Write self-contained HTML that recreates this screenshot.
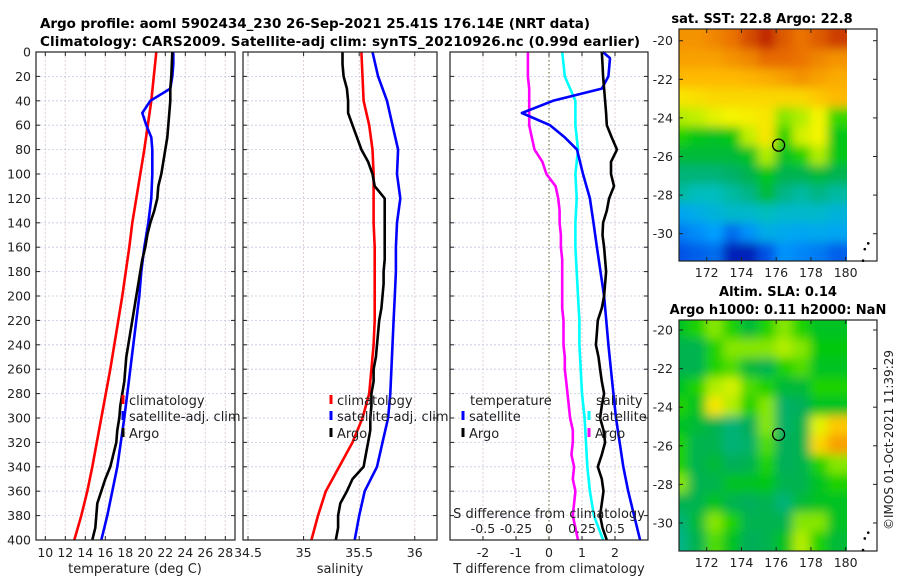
<!DOCTYPE html>
<html><head><meta charset="utf-8"><style>
html,body{margin:0;padding:0;background:#fff;}
svg{display:block;font-family:"DejaVu Sans","Liberation Sans",sans-serif;}
</style></head><body>
<svg id="fig" width="900" height="580" viewBox="0 0 900 580">
<defs>
<filter id="blur" filterUnits="userSpaceOnUse" x="600" y="0" width="300" height="580"><feGaussianBlur stdDeviation="5"/></filter>
<clipPath id="clip1"><rect x="679" y="29" width="168" height="232"/></clipPath>
<clipPath id="clip2"><rect x="679" y="320" width="168" height="231"/></clipPath>
</defs>
<text x="40" y="28" font-size="13.5" font-weight="bold" textLength="550">Argo profile: aoml 5902434_230 26-Sep-2021 25.41S 176.14E (NRT data)</text>
<text x="40" y="46" font-size="13.5" font-weight="bold" textLength="600">Climatology: CARS2009. Satellite-adj clim: synTS_20210926.nc (0.99d earlier)</text>
<text x="762" y="23" font-size="13" font-weight="bold" text-anchor="middle">sat. SST: 22.8 Argo: 22.8</text>
<text x="778" y="296" font-size="13" font-weight="bold" text-anchor="middle">Altim. SLA: 0.14</text>
<text x="778" y="314" font-size="13" font-weight="bold" text-anchor="middle">Argo h1000: 0.11 h2000: NaN</text>
<text transform="translate(893,440) rotate(-90)" font-size="12" text-anchor="middle" fill="#222">©IMOS 01-Oct-2021 11:39:29</text>
</svg>
<script>
// ---------- profile data ----------
const depth20 = [0,20,40,60,80,100,120,140,160,180,200,220,240,260,280,300,320,340,360,380,400];
const depth10 = [0,10,20,30,40,50,60,70,80,90,100,110,120,130,140,150,160,170,180,190,200,210,220,230,240,250,260,270,280,290,300,310,320,330,340,350,360,370,380,390,400];
const depthSatT = [0,10,20,30,40,50,60,70,80,100,120,140,160,180,200,240,280,300,340,360,380,400];
const depthSatD = [0,5,20,30,40,50,60,70,80,100,120,140,160,200,240,280,300,340,360,380,400];
const depthTicks = [0,20,40,60,80,100,120,140,160,180,200,220,240,260,280,300,320,340,360,380,400];
// temperature (deg C)
const tempClim = [21.1,20.85,20.6,20.25,19.9,19.5,19.1,18.7,18.4,18.05,17.7,17.3,16.9,16.5,16.05,15.6,15.15,14.7,14.2,13.6,12.9];
const tempSat = [22.8,22.8,22.7,22.5,20.5,19.7,20.1,20.6,20.7,20.7,20.6,20.3,19.9,19.6,19.4,18.8,18.2,17.9,17.2,16.7,16.2,15.6];
const tempArgo = [22.7,22.65,22.6,22.5,22.5,22.4,22.3,22.2,22.0,21.8,21.6,21.3,21.2,20.9,20.5,20.2,20.0,19.7,19.5,19.3,19.1,18.9,18.7,18.5,18.3,18.1,18.0,17.9,17.7,17.5,17.4,17.2,17.1,16.8,16.5,16.0,15.6,15.2,15.1,15.0,14.7];
const tempTicks = [10,12,14,16,18,20,22,24,26,28];
// salinity
const salClim = [35.52,35.53,35.54,35.59,35.62,35.63,35.63,35.63,35.64,35.64,35.64,35.64,35.63,35.61,35.59,35.53,35.44,35.32,35.2,35.13,35.07];
const salSat = [35.62,35.67,35.75,35.8,35.85,35.84,35.87,35.84,35.83,35.83,35.82,35.81,35.8,35.79,35.78,35.76,35.71,35.66,35.55,35.5,35.46];
const salArgo = [35.35,35.35,35.36,35.39,35.4,35.4,35.44,35.48,35.52,35.58,35.62,35.64,35.73,35.73,35.73,35.73,35.73,35.73,35.72,35.72,35.71,35.7,35.68,35.67,35.66,35.65,35.63,35.63,35.61,35.61,35.6,35.6,35.58,35.56,35.54,35.44,35.39,35.33,35.31,35.31,35.29];
const salTicks = [34.5,35,35.5,36];
const salTickLabels = ["34.5","35","35.5","36"];
// differences from climatology
const tDiffSat = [1.63,1.85,1.8,1.6,0.12,-0.82,0.03,0.48,0.85,1.03,1.24,1.35,1.45,1.67,1.8,1.95,2.03,2.25,2.4,2.58,2.76];
const tDiffArgo = [1.6,1.62,1.64,1.67,1.7,1.73,1.75,1.9,2.06,1.88,1.88,1.97,1.82,1.75,1.64,1.62,1.67,1.7,1.73,1.7,1.67,1.6,1.48,1.45,1.42,1.5,1.55,1.6,1.67,1.6,1.55,1.65,1.7,1.6,1.48,1.6,1.65,1.6,1.55,1.62,1.75];
const sDiffSat = [0.1,0.12,0.2,0.2,0.22,0.2,0.21,0.2,0.2,0.21,0.22,0.23,0.23,0.24,0.25,0.27,0.28,0.29,0.31,0.34,0.41];
const sDiffArgo = [-0.16,-0.16,-0.16,-0.15,-0.15,-0.15,-0.15,-0.13,-0.11,-0.05,-0.02,0.05,0.07,0.08,0.08,0.09,0.09,0.1,0.1,0.1,0.1,0.1,0.11,0.11,0.11,0.12,0.12,0.13,0.14,0.15,0.16,0.18,0.18,0.17,0.19,0.18,0.2,0.19,0.18,0.2,0.22];
const tDiffTicks = [-2,-1,0,1,2];
const sDiffTicks = [-0.5,-0.25,0,0.25,0.5];
const sDiffTickLabels = ["-0.5","-0.25","0","0.25","0.5"];
// ---------- map data (normalized colour index, rows lat -20..-31, cols lon 170.5..179.5) ----------
const mapLats = [-20,-21,-22,-23,-24,-25,-26,-27,-28,-29,-30,-31];
const mapLons = [170.9,171.5,172.5,173.5,174.5,175.5,176.5,177.5,178.5,179.5];
const sstGrid = [
[0.8,0.8,0.82,0.85,0.9,0.95,0.88,0.85,0.88,0.92],
[0.78,0.78,0.78,0.8,0.82,0.86,0.86,0.85,0.82,0.8],
[0.74,0.74,0.74,0.74,0.75,0.76,0.78,0.8,0.78,0.76],
[0.68,0.69,0.7,0.7,0.7,0.7,0.7,0.7,0.72,0.74],
[0.62,0.63,0.65,0.66,0.67,0.68,0.6,0.62,0.66,0.57],
[0.56,0.53,0.52,0.54,0.63,0.68,0.56,0.64,0.66,0.53],
[0.5,0.5,0.5,0.5,0.52,0.62,0.52,0.56,0.62,0.53],
[0.45,0.45,0.45,0.46,0.48,0.53,0.48,0.48,0.5,0.48],
[0.42,0.4,0.4,0.42,0.44,0.5,0.44,0.42,0.44,0.42],
[0.32,0.34,0.36,0.38,0.38,0.4,0.38,0.38,0.38,0.36],
[0.24,0.27,0.3,0.22,0.28,0.34,0.33,0.32,0.33,0.32],
[0.18,0.2,0.22,0.08,0.08,0.18,0.28,0.26,0.24,0.2]];
const slaGrid = [
[0.52,0.56,0.6,0.56,0.5,0.56,0.6,0.56,0.52,0.52],
[0.48,0.48,0.56,0.6,0.6,0.6,0.62,0.6,0.54,0.54],
[0.48,0.48,0.56,0.58,0.5,0.48,0.56,0.58,0.52,0.52],
[0.52,0.56,0.62,0.64,0.58,0.56,0.5,0.5,0.56,0.56],
[0.56,0.52,0.68,0.62,0.56,0.6,0.46,0.47,0.52,0.52],
[0.52,0.5,0.48,0.45,0.47,0.6,0.46,0.48,0.65,0.72],
[0.56,0.48,0.48,0.45,0.46,0.58,0.47,0.48,0.7,0.78],
[0.56,0.48,0.5,0.47,0.48,0.56,0.47,0.48,0.56,0.6],
[0.6,0.48,0.48,0.52,0.52,0.53,0.48,0.48,0.52,0.56],
[0.48,0.48,0.52,0.48,0.47,0.48,0.45,0.5,0.52,0.52],
[0.45,0.5,0.6,0.56,0.48,0.48,0.48,0.6,0.6,0.52],
[0.44,0.48,0.58,0.52,0.47,0.48,0.52,0.62,0.56,0.5]];
const mapLatTicks = [-20,-22,-24,-26,-28,-30];
const mapLonTicks = [172,174,176,178,180];
const argoLon = 176.14, argoLat = -25.41;

const NS = "http://www.w3.org/2000/svg";
const svg = document.getElementById('fig');
function mk(tag, attrs, parent){ const e=document.createElementNS(NS,tag); for(const k in attrs) e.setAttribute(k,attrs[k]); (parent||svg).appendChild(e); return e; }

const PY0=52, PY1=540;
const yDepth = d => PY0 + d/400*(PY1-PY0);
const panels = [
 {x0:36,x1:235,lo:9.07,hi:28.97,name:'temperature'},
 {x0:243,x1:437,lo:34.455,hi:36.2,name:'salinity'},
 {x0:450,x1:648,lo:-3,hi:3,name:'difference'}];
const xs = p => v => p.x0 + (v-p.lo)/(p.hi-p.lo)*(p.x1-p.x0);
const xT = xs(panels[0]), xS = xs(panels[1]), xD = xs(panels[2]);
const xSD = v => xD(v*4);

function drawPanel(p, xf, ticks, labels, gridName){
  const g = mk('g',{});
  
  
  ticks.forEach((t,i)=>{
    const l = mk('line',{x1:xf(t),x2:xf(t),y1:PY0,y2:PY1,stroke:'#d9c3cf','stroke-width':0.8,'stroke-dasharray':'2,2'},g);
    
    
    mk('line',{x1:xf(t),x2:xf(t),y1:PY1,y2:PY1-4,stroke:'#222'},g);
    mk('line',{x1:xf(t),x2:xf(t),y1:PY0,y2:PY0+4,stroke:'#222'},g);
  });
  depthTicks.forEach(d=>{
    const l = mk('line',{x1:p.x0,x2:p.x1,y1:yDepth(d),y2:yDepth(d),stroke:'#c6c8e6','stroke-width':0.8,'stroke-dasharray':'2,2'},g);
    
    
    mk('line',{x1:p.x0,x2:p.x0+4,y1:yDepth(d),y2:yDepth(d),stroke:'#222'},g);
    mk('line',{x1:p.x1,x2:p.x1-4,y1:yDepth(d),y2:yDepth(d),stroke:'#222'},g);
  });
  if(labels){
    ticks.forEach((t,i)=>{
      const tx = mk('text',{x:xf(t),y:557,'font-size':12.5,'text-anchor':'middle',fill:'#222'},g);
      tx.textContent = labels[i];
      
      
    });
  }
  return g;
}
function line(xf, xv, dv, color, name){
  const pts = xv.map((v,i)=>xf(v).toFixed(1)+','+yDepth(dv[i]).toFixed(1)).join(' ');
  const pl = mk('polyline',{points:pts,fill:'none',stroke:color,'stroke-width':2.6,'stroke-linejoin':'round'});
  
  
}
drawPanel(panels[0], xT, tempTicks, tempTicks.map(String), 'temperature');
drawPanel(panels[1], xS, salTicks, salTickLabels, 'salinity');
drawPanel(panels[2], xD, tDiffTicks, tDiffTicks.map(String), 'difference');
const z = mk('line',{x1:xD(0),x2:xD(0),y1:PY0,y2:PY1,stroke:'#556b2f','stroke-width':1,'stroke-dasharray':'1.5,2.5'});


depthTicks.forEach(d=>{
  const t = mk('text',{x:31,y:yDepth(d)+4.5,'font-size':12.5,'text-anchor':'end',fill:'#222'});
  t.textContent = d;
  
  
});
line(xT, tempClim, depth20, '#ff0000', 'temperature-climatology-line');
line(xT, tempSat, depthSatT, '#0000ff', 'temperature-satellite-line');
line(xT, tempArgo, depth10, '#000000', 'temperature-argo-line');
line(xS, salClim, depth20, '#ff0000', 'salinity-climatology-line');
line(xS, salSat, depth20, '#0000ff', 'salinity-satellite-line');
line(xS, salArgo, depth10, '#000000', 'salinity-argo-line');
line(xSD, sDiffArgo, depth10, '#ff00ff', 'salinity-diff-argo-line');
line(xSD, sDiffSat, depth20, '#00ffff', 'salinity-diff-satellite-line');
line(xD, tDiffSat, depthSatD, '#0000ff', 'temperature-diff-satellite-line');
line(xD, tDiffArgo, depth10, '#000000', 'temperature-diff-argo-line');
panels.forEach(p=>{
  const r = mk('rect',{x:p.x0,y:PY0,width:p.x1-p.x0,height:PY1-PY0,fill:'none',stroke:'#222','stroke-width':1.2});
  
  
});
sDiffTicks.forEach((v,i)=>{
  const t = mk('text',{x:xSD(v),y:533,'font-size':12.5,'text-anchor':'middle',fill:'#222'});
  t.textContent = sDiffTickLabels[i];
  
  
});
function txt(x,y,s,name,anchor,size){
  const t = mk('text',{x:x,y:y,'font-size':size||13,'text-anchor':anchor||'start',fill:'#222'});
  t.textContent = s;
  
  
  return t;
}
txt(549,518,'S difference from climatology','salinity-diff-axis-title','middle');
txt(135,573,'temperature (deg C)','temperature-axis-title','middle');
txt(340,573,'salinity','salinity-axis-title','middle');
txt(549,573,'T difference from climatology','temperature-diff-axis-title','middle');
function legItem(x,y,color,label,name){
  const m = mk('line',{x1:x,x2:x,y1:y-10,y2:y-1,stroke:color,'stroke-width':3});
  
  
  txt(x+6,y,label,name+'-label');
}
legItem(123,405,'#ff0000','climatology','legend-climatology');
legItem(123,421,'#0000ff','satellite-adj. clim','legend-satellite');
legItem(123,438,'#000000','Argo','legend-argo');
legItem(331,405,'#ff0000','climatology','legend2-climatology');
legItem(331,421,'#0000ff','satellite-adj. clim','legend2-satellite');
legItem(331,438,'#000000','Argo','legend2-argo');
txt(470,405,'temperature','legend3-temperature-heading');
legItem(463,421,'#0000ff','satellite','legend3-t-satellite');
legItem(463,438,'#000000','Argo','legend3-t-argo');
txt(596,405,'salinity','legend3-salinity-heading');
legItem(589,421,'#00ffff','satellite','legend3-s-satellite');
legItem(589,438,'#ff00ff','Argo','legend3-s-argo');

// ---------- maps ----------
const stops = [[0,[0,0,140]],[0.15,[0,64,224]],[0.3,[0,160,255]],[0.4,[0,190,190]],[0.47,[0,175,90]],[0.55,[0,205,0]],[0.61,[160,235,0]],[0.66,[245,245,0]],[0.74,[255,185,0]],[0.85,[235,115,0]],[1,[170,0,0]]];
function cmap(v){
  for(let i=1;i<stops.length;i++){
    if(v<=stops[i][0]){
      const a=stops[i-1],b=stops[i],f=(v-a[0])/(b[0]-a[0]);
      return 'rgb('+a[1].map((c,k)=>Math.round(c+(b[1][k]-c)*f)).join(',')+')';
    }
  }
  return 'rgb(170,0,0)';
}
const xLon = lon => 706.7 + (lon-172)*17.37;
function drawMap(grid, top, y20, clip, name){
  const yLat = lat => y20 + (-20-lat)*19.3;
  const outer = mk('g',{'clip-path':'url(#'+clip+')'});
  
  
  const g = mk('g',{filter:'url(#blur)'},outer);
  const nr = grid.length, nc = grid[0].length;
  grid.forEach((row,r)=>row.forEach((v,c)=>{
    const lon = mapLons[c], lat = mapLats[r];
    let x = xLon(lon-0.5)-1, y = yLat(lat+0.5)-1, w = 17.37+2, h = 19.3+2;
    if(c===0){x-=25;w+=25;}
    if(c===nc-1){w+=25;}
    if(r===0){y-=25;h+=25;}
    if(r===nr-1){h+=25;}
    const cell = mk('rect',{x:x,y:y,width:w,height:h,fill:cmap(v)},g);
    
    
  }));
  const white = mk('rect',{x:847,y:top,width:30,height:240,fill:'#fff'});
  
  
  const H = (clip==='clip1'?232:231);
  const frame = mk('rect',{x:679,y:top,width:198,height:H,fill:'none',stroke:'#222','stroke-width':1.2});
  
  
  const bottom = top + H;
  mapLatTicks.forEach(l=>{
    mk('line',{x1:679,x2:683,y1:yLat(l),y2:yLat(l),stroke:'#222'});
    mk('line',{x1:877,x2:873,y1:yLat(l),y2:yLat(l),stroke:'#222'});
    txt(673,yLat(l)+4.5,String(l),name+'-lat-label','end',12.5);
  });
  mapLonTicks.forEach(l=>{
    mk('line',{x1:xLon(l),x2:xLon(l),y1:bottom,y2:bottom-4,stroke:'#222'});
    mk('line',{x1:xLon(l),x2:xLon(l),y1:top,y2:top+4,stroke:'#222'});
    txt(xLon(l),bottom+16,String(l),name+'-lon-label','middle',12.5);
  });
  const c = mk('circle',{cx:xLon(argoLon),cy:yLat(argoLat),r:6,fill:'none',stroke:'#000','stroke-width':1.3});
  
  
  [[181.3,-30.5],[181.1,-30.8],[181.0,-31.4]].forEach(p=>{
    const d = mk('circle',{cx:xLon(p[0]),cy:yLat(p[1]),r:1.3,fill:'#000'});
    
    
  });
}
drawMap(sstGrid, 29, 40.7, 'clip1', 'sst-map');
drawMap(slaGrid, 320, 330, 'clip2', 'sla-map');
</script>
</body></html>
